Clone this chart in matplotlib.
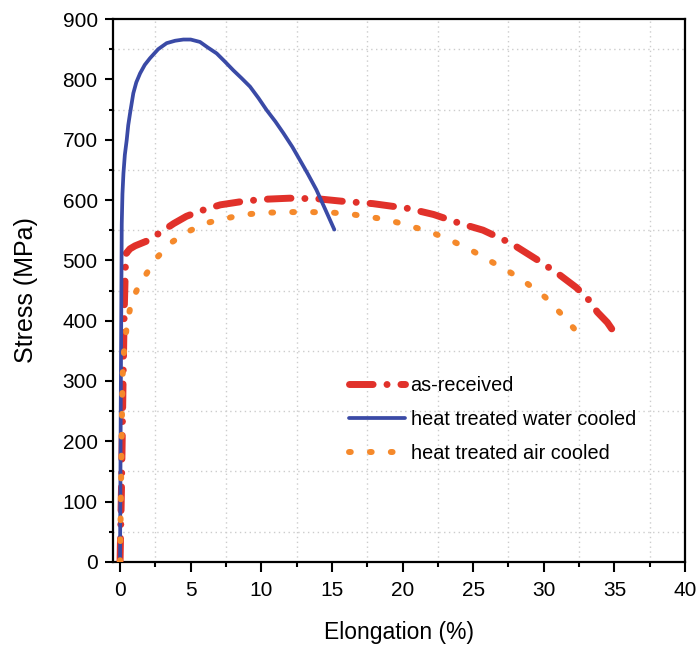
import numpy as np
import matplotlib.pyplot as plt
from matplotlib.ticker import MultipleLocator

plt.rcParams["font.family"] = ["Liberation Sans", "DejaVu Sans"]

# as-received
ar_x = [0, 0.1, 0.2, 0.3, 0.38, 0.45, 0.7, 1.06, 2.0, 2.9, 3.8, 4.7, 5.7, 7.1,
        8.5, 10, 12, 14, 15.7, 17.9, 20.4, 22.2, 24.1, 25.7, 27.7, 29.6, 31.0,
        32.3, 33.1, 33.8, 34.5, 35.0, 35.1]
ar_y = [0, 120, 280, 420, 490, 512, 519, 524, 533, 547, 561, 573, 582, 592,
        597, 601, 603, 602, 598, 594, 586, 576, 561, 550, 528, 500, 478,
        455, 437, 414, 397, 380, 365]

# heat treated water cooled
wc_x = [0, 0.05, 0.12, 0.17, 0.24, 0.34, 0.47, 0.58, 0.71, 0.94, 1.15, 1.42,
        1.75, 2.12, 2.7, 3.3, 3.9, 4.48, 5.0, 5.66, 6.2, 6.84, 7.4, 8.02, 8.6,
        9.2, 9.8, 10.38, 11.0, 11.56, 12.2, 12.74, 13.3, 13.9, 14.5, 15.17]
wc_y = [0, 260, 560, 610, 644, 675, 699, 724, 744, 777, 795, 810,
        824, 835, 850, 860, 864, 866, 866, 862, 853, 843, 830, 815, 802,
        788, 769, 749, 730, 711, 688, 666, 643, 617, 586, 551]

# heat treated air cooled
ac_x = [0, 0.05, 0.1, 0.15, 0.2, 0.3, 0.47, 0.76, 1.3, 2.12, 2.71, 3.66, 4.84,
        6.14, 7.4, 8.8, 10.4, 12, 13.6, 15.1, 16.5, 18.2, 19.6, 21.1, 22.4,
        23.7, 25, 26.5, 27.5, 28.8, 30.1, 31.2, 32.4]
ac_y = [0, 90, 180, 270, 320, 355, 389, 427, 457, 487, 507, 530, 548,
        562, 569, 576, 579, 580, 580, 579, 576, 570, 563, 553, 543,
        530, 515, 495, 482, 462, 439, 412, 380]

red = "#E1312A"
blue = "#3A4AA6"
orange = "#F5892B"

fig = plt.figure(figsize=(6.97, 6.47), dpi=100)
ax = fig.add_axes([0.1621, 0.1314, 0.8207, 0.8392])

ax.plot(ar_x, ar_y, color=red, lw=5, dashes=(3.4, 2.0, 0.01, 2.0),
        dash_capstyle="round", label="as-received", zorder=3)
ax.plot(wc_x, wc_y, color=blue, lw=2.7, solid_capstyle="round",
        solid_joinstyle="round", label="heat treated water cooled", zorder=4)
ax.plot(ac_x, ac_y, color=orange, lw=4.3, dashes=(0.3, 3.2),
        dash_capstyle="round", label="heat treated air cooled", zorder=5)

ax.set_xlim(-0.5, 40)
ax.set_ylim(0, 900)
ax.xaxis.set_major_locator(MultipleLocator(5))
ax.xaxis.set_minor_locator(MultipleLocator(2.5))
ax.yaxis.set_major_locator(MultipleLocator(100))
ax.yaxis.set_minor_locator(MultipleLocator(50))

ax.grid(which="minor", color="#cccccc", linestyle=(0, (1, 2.5)), lw=1)
ax.grid(which="major", visible=False)

ax.tick_params(which="major", direction="out", width=1.5, top=False, right=False)
ax.tick_params(which="minor", direction="out", width=1.5, top=False, right=False)
ax.tick_params(axis="x", which="major", length=7, labelsize=15, pad=7)
ax.tick_params(axis="x", which="minor", length=3.5)
ax.tick_params(axis="y", which="major", length=6, labelsize=15, pad=5)
ax.tick_params(axis="y", which="minor", length=3)
for s in ax.spines.values():
    s.set_linewidth(1.6)

ax.set_xlabel("Elongation (%)", fontsize=16.5, labelpad=15)
ax.set_ylabel("Stress (MPa)", fontsize=18, labelpad=18)

ax.legend(loc="upper left", bbox_to_anchor=(0.4126, 0.343), frameon=False,
          fontsize=14.3, handlelength=2.8, handletextpad=0.3,
          labelspacing=0.75, borderpad=0, borderaxespad=0)

fig.savefig("out.png", dpi=100)
